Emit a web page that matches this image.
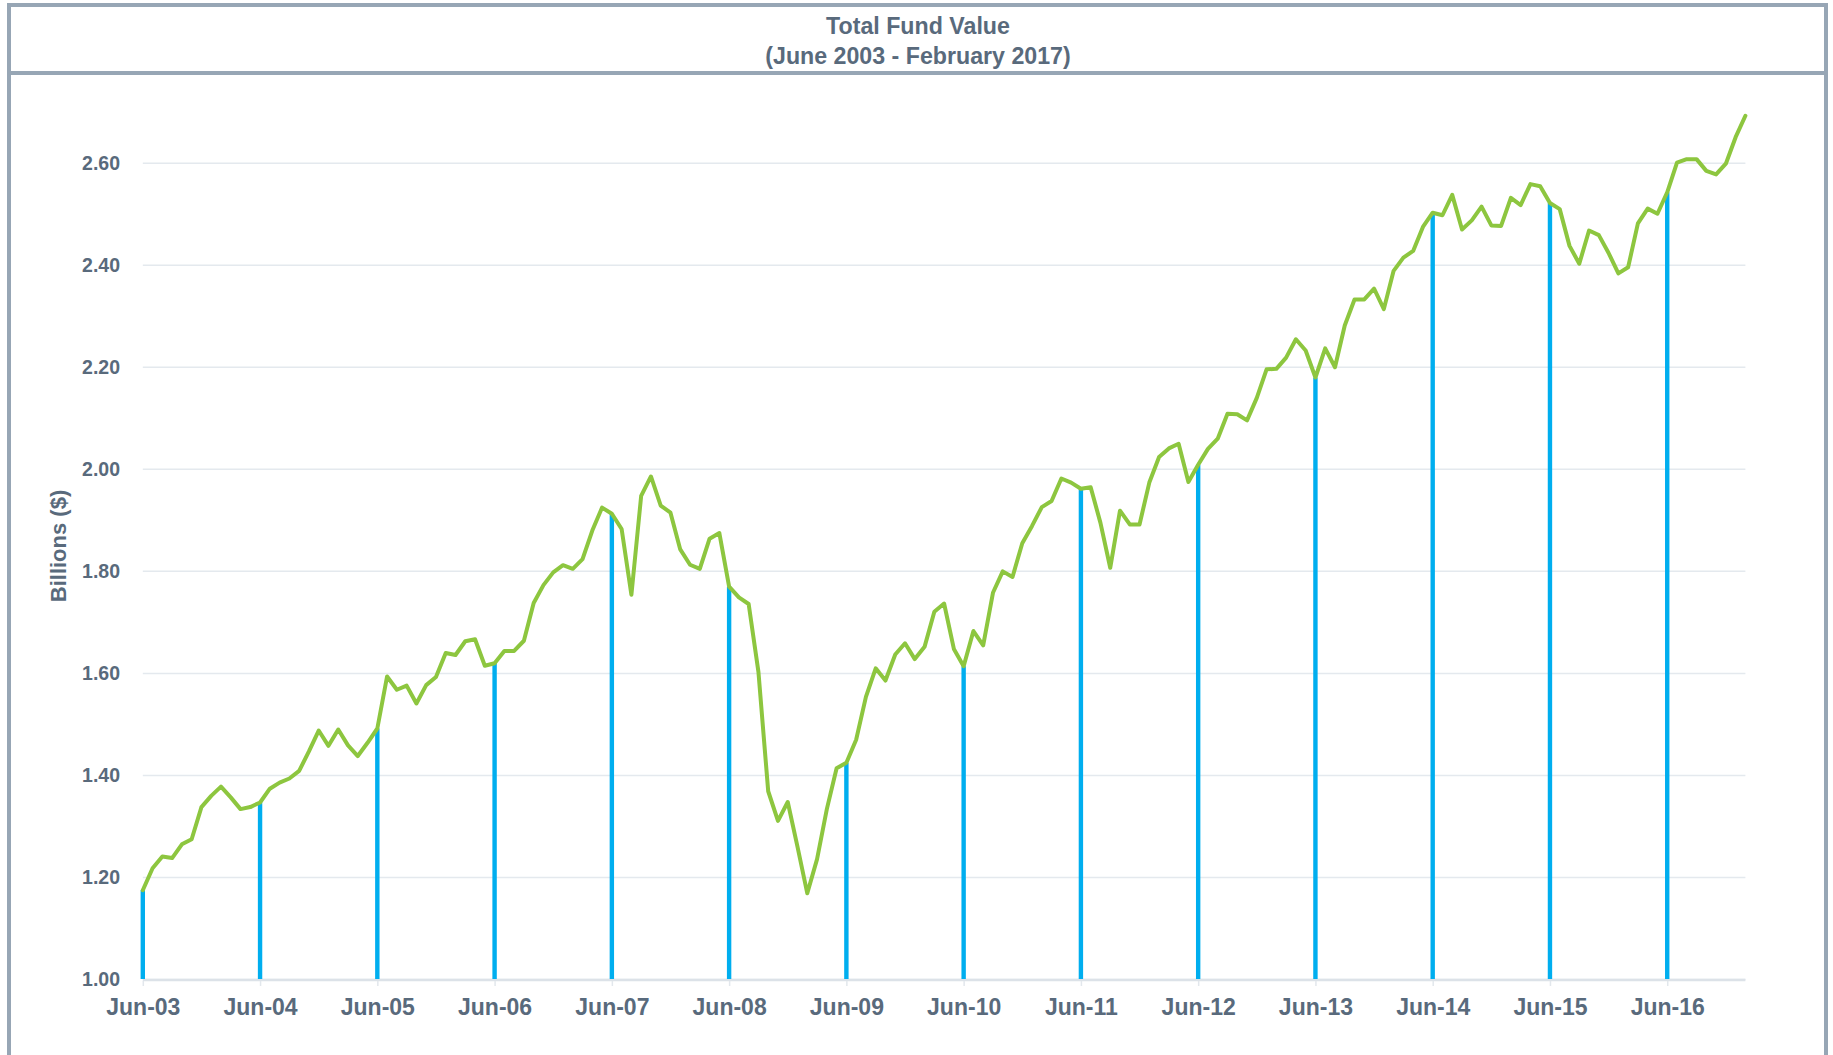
<!DOCTYPE html>
<html>
<head>
<meta charset="utf-8">
<script src="https://cdn.jsdelivr.net/npm/d3@7"></script>
<style>
  html, body { margin: 0; padding: 0; background: #fff; }
  #chart { width: 1833px; height: 1055px; }
  text { font-family: 'Liberation Sans', Arial, sans-serif; font-weight: bold; fill: #596a7c; }
</style>
</head>
<body>
<div id="chart"></div>
<script>
// monthly fund value in billions, Jun 2003 .. Feb 2017
const startYear = 2003
const startMonth = 5 // June (0-based)

const fundValues = [
  1.174, 1.217, 1.240, 1.237, 1.264, 1.274, 1.337, 1.359, 1.377, 1.356, 1.333, 1.337,
  1.346, 1.373, 1.385, 1.393, 1.408, 1.446, 1.487, 1.457, 1.489, 1.458, 1.437, 1.463,
  1.491, 1.593, 1.567, 1.575, 1.540, 1.576, 1.592, 1.639, 1.635, 1.662, 1.666, 1.614,
  1.619, 1.643, 1.643, 1.663, 1.737, 1.772, 1.797, 1.811, 1.804, 1.823, 1.879, 1.924,
  1.912, 1.882, 1.753, 1.947, 1.985, 1.928, 1.914, 1.842, 1.812, 1.804, 1.863, 1.874,
  1.769, 1.748, 1.735, 1.602, 1.368, 1.310, 1.347, 1.259, 1.168, 1.235, 1.333, 1.413,
  1.424, 1.469, 1.553, 1.609, 1.585, 1.636, 1.658, 1.627, 1.651, 1.720, 1.736, 1.647,
  1.613, 1.682, 1.654, 1.757, 1.799, 1.788, 1.854, 1.888, 1.925, 1.937, 1.981, 1.973,
  1.961, 1.964, 1.894, 1.806, 1.918, 1.891, 1.891, 1.973, 2.023, 2.040, 2.049, 1.974,
  2.008, 2.039, 2.059, 2.108, 2.107, 2.095, 2.139, 2.195, 2.196, 2.218, 2.254, 2.232,
  2.179, 2.236, 2.199, 2.281, 2.332, 2.332, 2.353, 2.313, 2.388, 2.414, 2.427, 2.474,
  2.502, 2.497, 2.537, 2.469, 2.487, 2.514, 2.477, 2.476, 2.531, 2.517, 2.558, 2.554,
  2.521, 2.509, 2.437, 2.402, 2.467, 2.458, 2.423, 2.383, 2.395, 2.481, 2.510, 2.500,
  2.542, 2.600, 2.607, 2.607, 2.584, 2.577, 2.598, 2.650, 2.692
]

const juneLabels = [
  'Jun-03', 'Jun-04', 'Jun-05', 'Jun-06', 'Jun-07', 'Jun-08', 'Jun-09',
  'Jun-10', 'Jun-11', 'Jun-12', 'Jun-13', 'Jun-14', 'Jun-15', 'Jun-16'
]

const yTicks = [1.0, 1.2, 1.4, 1.6, 1.8, 2.0, 2.2, 2.4, 2.6]

const titleLines = ['Total Fund Value', '(June 2003 - February 2017)']
const yTitle = 'Billions ($)'

const width = 1833
const height = 1055
const plot = { left: 142.8, right: 1745.4, top: 162.7, bottom: 979 }
const frameColor = '#97a6b5'

const fmtMonth = d3.timeFormat('%b-%y')
const data = fundValues.map((v, i) => {
  const date = new Date(startYear, startMonth + i, 1)
  return { key: fmtMonth(date), june: date.getMonth() === 5, value: v }
})

const svg = d3
  .select('#chart')
  .append('svg')
  .attr('width', width)
  .attr('height', height)

// frame + title box
svg
  .append('rect')
  .attr('x', 9)
  .attr('y', 5)
  .attr('width', 1817)
  .attr('height', height + 20)
  .attr('fill', 'none')
  .attr('stroke', frameColor)
  .attr('stroke-width', 4)

svg
  .append('line')
  .attr('x1', 9)
  .attr('x2', 1826)
  .attr('y1', 73)
  .attr('y2', 73)
  .attr('stroke', frameColor)
  .attr('stroke-width', 4)

svg
  .selectAll('.title')
  .data(titleLines)
  .enter()
  .append('text')
  .attr('class', 'title')
  .attr('x', 918)
  .attr('y', (d, i) => 34 + i * 29.5)
  .attr('text-anchor', 'middle')
  .attr('font-size', 23.2)
  .text(d => d)

const xScale = d3
  .scalePoint()
  .domain(data.map(d => d.key))
  .range([plot.left, plot.right])

const yScale = d3
  .scaleLinear()
  .domain([1.0, 2.6])
  .range([plot.bottom, plot.top])

// y gridlines + labels
const yAxis = svg
  .append('g')
  .attr('transform', `translate(${plot.left},0)`)
  .call(
    d3
      .axisLeft(yScale)
      .tickValues(yTicks)
      .tickFormat(d3.format('.2f'))
      .tickSize(-(plot.right - plot.left))
      .tickPadding(22.8)
  )
yAxis.select('.domain').remove()
yAxis
  .selectAll('.tick line')
  .attr('stroke', '#e4e9ee')
  .attr('stroke-width', 1.5)
yAxis
  .selectAll('.tick text')
  .attr('font-size', 19.5)
  .attr('fill', '#596a7c')
  .attr('dy', '0.35em')

// x axis
const xAxis = svg
  .append('g')
  .attr('transform', `translate(0,${plot.bottom})`)
  .call(
    d3
      .axisBottom(xScale)
      .tickValues(data.filter(d => d.june).map(d => d.key))
      .tickFormat((d, i) => juneLabels[i])
      .tickSize(7)
      .tickPadding(12.8)
      .tickSizeOuter(0)
  )
xAxis
  .select('.domain')
  .attr('stroke', '#dce2e8')
  .attr('stroke-width', 2.5)
  .attr('d', `M${plot.left},1V1H${plot.right}`)
xAxis
  .selectAll('.tick line')
  .attr('stroke', '#e2e7ec')
  .attr('stroke-width', 1.5)
  .attr('y1', 2)
xAxis
  .selectAll('.tick text')
  .attr('font-size', 23)
  .attr('fill', '#596a7c')

// june bars
svg
  .append('g')
  .selectAll('rect')
  .data(data.filter(d => d.june))
  .enter()
  .append('rect')
  .attr('x', d => xScale(d.key) - 2.2)
  .attr('width', 4.4)
  .attr('y', d => yScale(d.value))
  .attr('height', d => plot.bottom - yScale(d.value))
  .attr('fill', '#00aeef')

// fund line
const line = d3
  .line()
  .x(d => xScale(d.key))
  .y(d => yScale(d.value))

svg
  .append('path')
  .datum(data)
  .attr('d', line)
  .attr('fill', 'none')
  .attr('stroke', '#8dc63f')
  .attr('stroke-width', 4)
  .attr('stroke-linejoin', 'round')
  .attr('stroke-linecap', 'round')

svg
  .append('text')
  .attr('transform', 'translate(66,546) rotate(-90)')
  .attr('text-anchor', 'middle')
  .attr('font-size', 22)
  .text(yTitle)
</script>
</body>
</html>
